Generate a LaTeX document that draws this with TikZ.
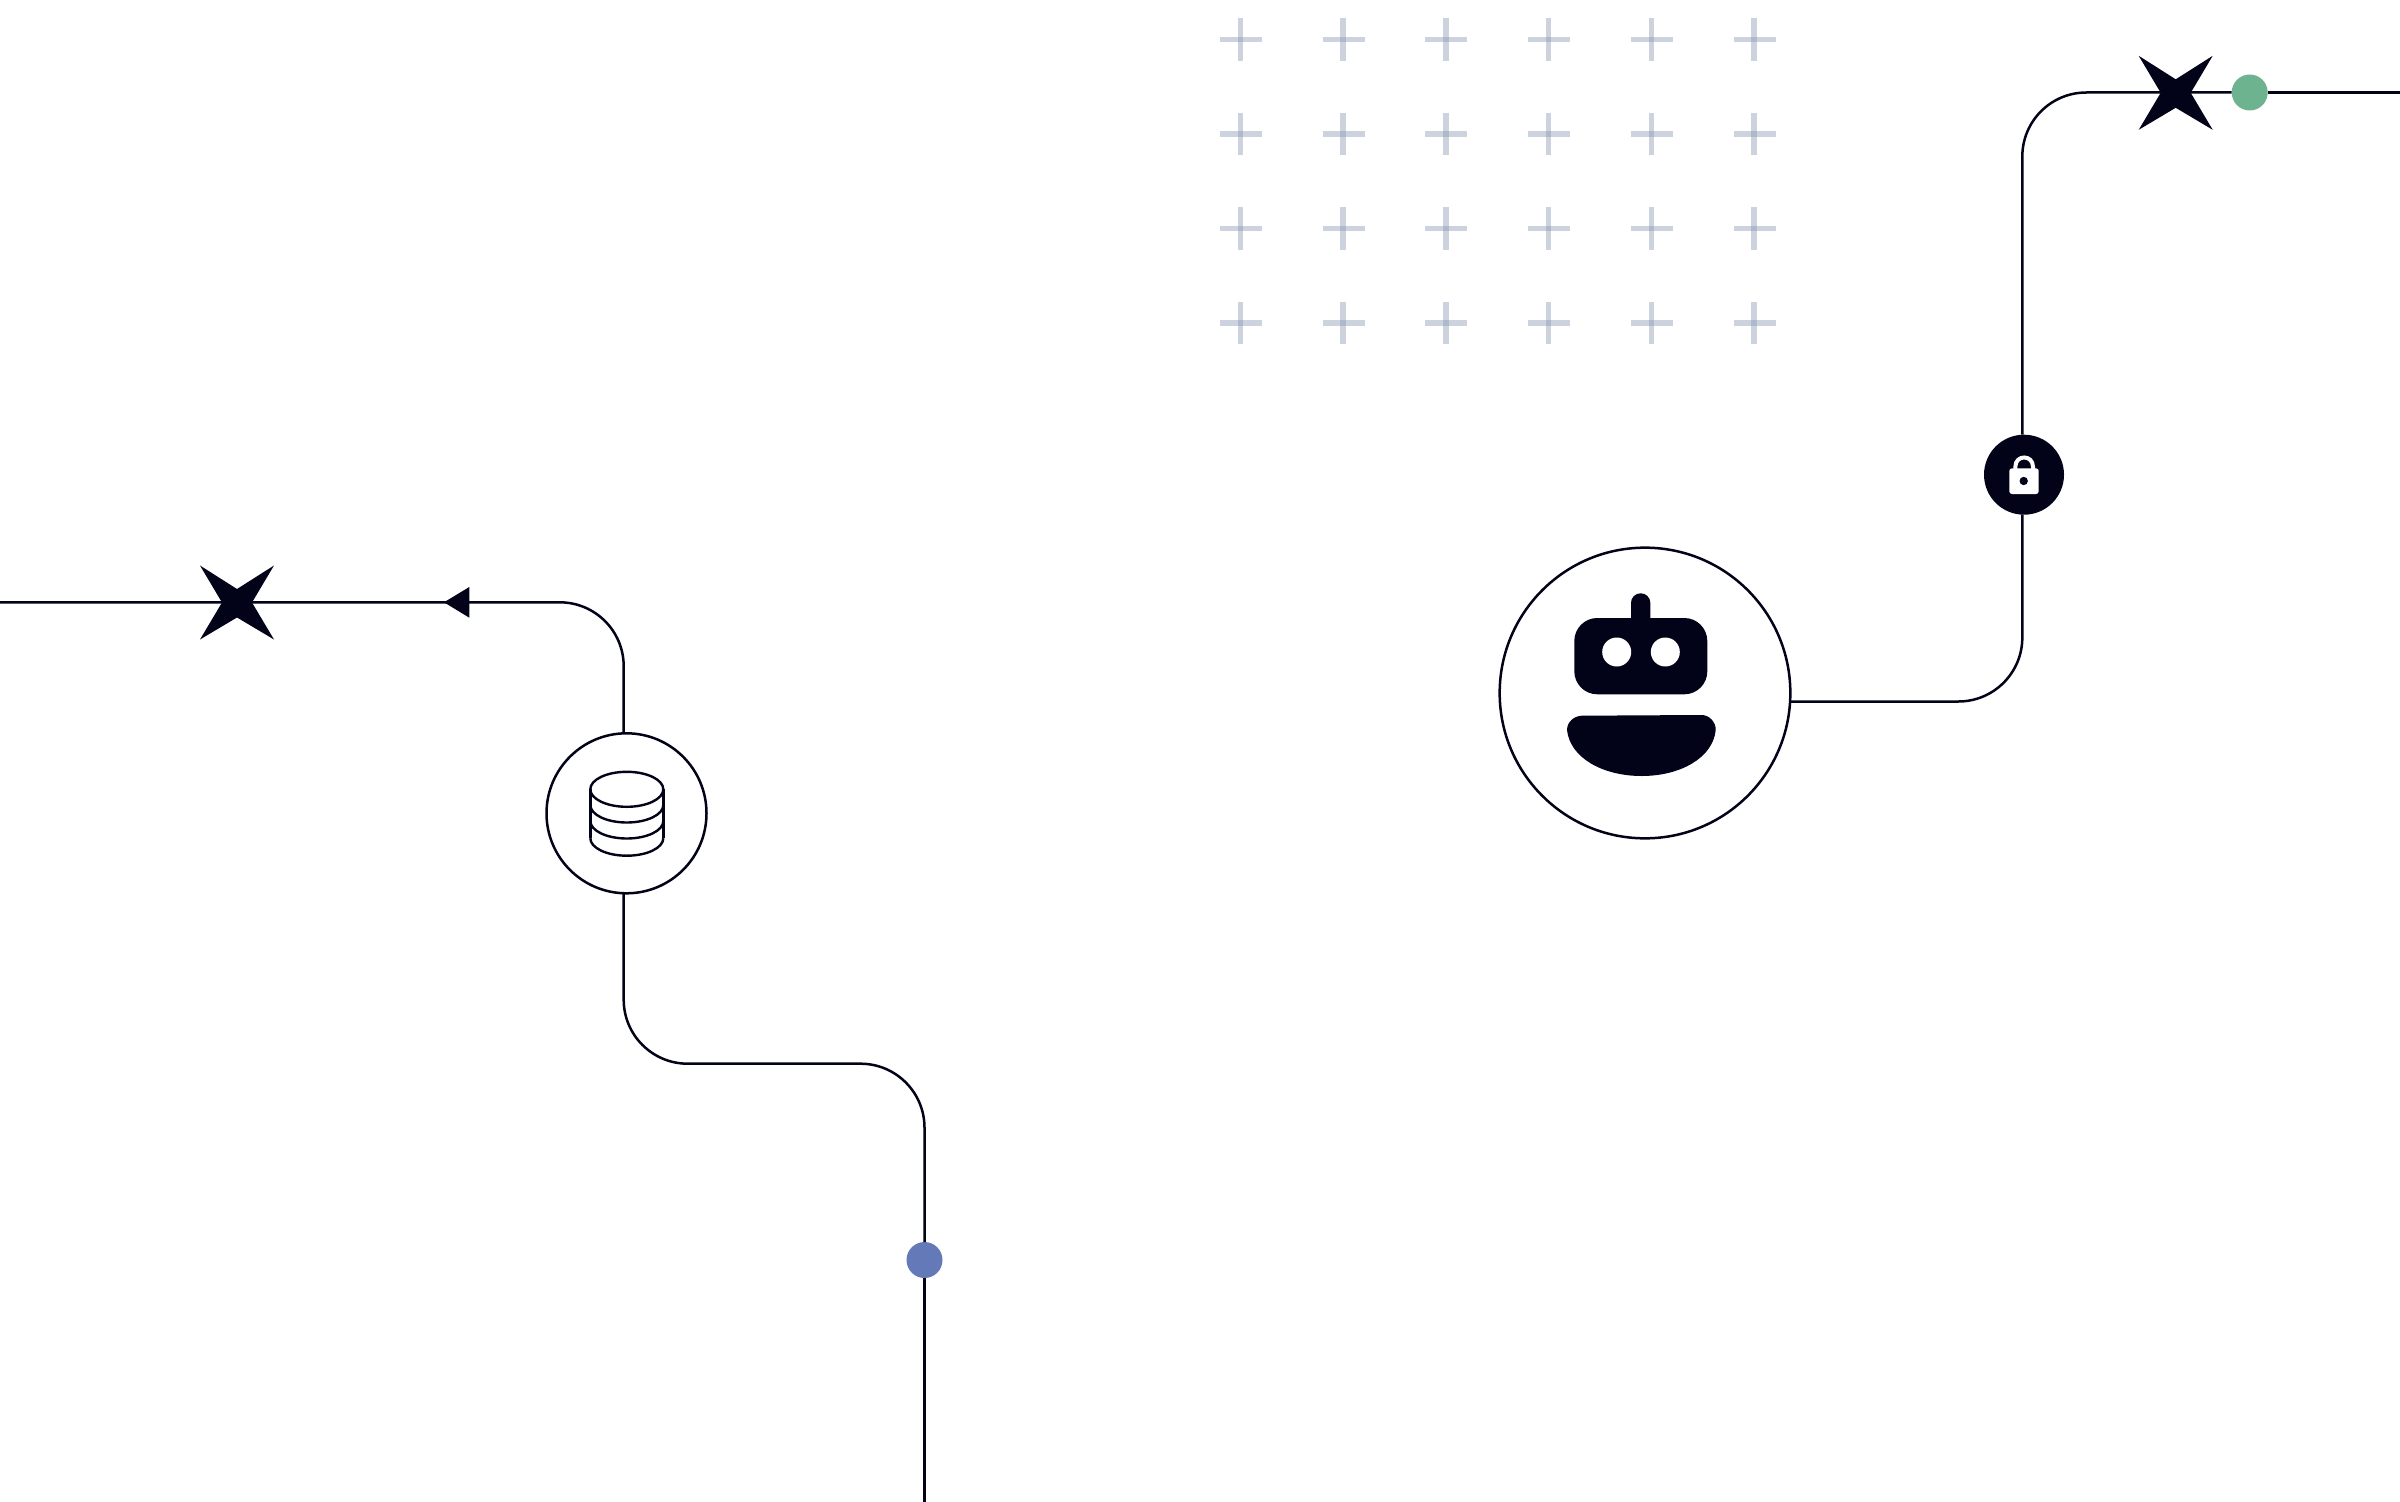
\documentclass[tikz,border=0pt]{standalone}
\definecolor{ink}{HTML}{020318}
\definecolor{plusc}{HTML}{8E9BB5}
\definecolor{dotgreen}{HTML}{6DB38F}
\definecolor{dotblue}{HTML}{6379B8}
\tikzset{
  wire/.style={draw=ink,line width=0.75mm,rounded corners=19.2mm},
  ring/.style={circle,draw=ink,fill=white,line width=0.75mm,inner sep=0pt,outer sep=0pt},
  dot/.style={circle,inner sep=0pt,outer sep=0pt,minimum size=10.8mm},
  blackring/.style={circle,fill=ink,inner sep=0pt,outer sep=0pt,minimum size=24mm},
  inkfill/.style={fill=ink},
  thin line/.style={draw=ink,line width=0.72mm},
  plusmark/.style={draw=plusc,draw opacity=.45,line width=1.65mm},
  spark/.pic={\fill[ink] (-37,-37) -- (0,-13.5) -- (37,-37) -- (15,0) -- (37,37) -- (0,15) -- (-37,37) -- (-15,0) -- cycle;}
}
\begin{document}
\begin{tikzpicture}[x=0.3mm,y=-0.3mm]
\useasboundingbox (0,0) rectangle (2400,1502);

% plus grid
\foreach \i in {0,...,5}{\foreach \j in {0,...,3}{
  \draw[plusmark] ({1220+102.7*\i},{39.7+94.4*\j}) -- ++(42,0);
  \draw[plusmark] ({1240.5+102.7*\i},{18.5+94.4*\j}) -- ++(0,42.5);
}}

% nodes
\node[ring,minimum size=87.2mm] (robot) at (1645,693) {};
\node[ring,minimum size=48mm] (db) at (626.5,813.3) {};
\node[blackring] (lock) at (2024,474.7) {};
\node[dot,fill=dotgreen] (green) at (2249.7,92.5) {};
\node[dot,fill=dotblue] (blue) at (924.5,1260) {};

% route coordinates
\coordinate (r1) at (2022.3,701.5);
\coordinate (r2) at (2022.3,92.5);
\coordinate (rend) at (2400,92.5);
\coordinate (l1) at (623.7,602.3);
\coordinate (lend) at (0,602.3);
\coordinate (d1) at (623.7,1063.7);
\coordinate (d2) at (924.5,1063.7);
\coordinate (dend) at (924.5,1502);

% connectors
\draw[wire] (robot.-3 |- r1) -- (r1) -- (r1 |- lock.south);
\draw[wire] (r1 |- lock.north) -- (r2) -- (green.west);
\draw[wire] (green.east) -- (rend);
\draw[wire] (db.north -| l1) -- (l1) -- (lend);
\draw[wire] (db.south -| l1) -- (d1) -- (d2) -- (blue.north);
\draw[wire] (blue.south) -- (dend);

% stars
\pic at (2175.7,92.8) {spark};
\pic at (237,602.5) {spark};

% arrowhead
\fill[ink] (444,602.3) -- (469.3,587) -- (469.3,617.7) -- cycle;

% robot
\fill[inkfill,rounded corners=6.9mm] (1574.3,618) rectangle (1707.3,694.3);
\fill[inkfill,rounded corners=2.85mm] (1631,630) -- (1631,593.3) -- (1650.3,593.3) -- (1650.3,630) -- cycle;
\fill[white] (1616.7,652) circle[radius=4.35mm];
\fill[white] (1665.3,652) circle[radius=4.35mm];
\fill[inkfill] (1581.7,715.7) -- (1701.7,715) .. controls (1709,715) and (1716,722) .. (1715.7,730)
  .. controls (1713,758) and (1680,776) .. (1641.7,776)
  .. controls (1603,776) and (1570,758) .. (1567,730)
  .. controls (1567,722) and (1574,716) .. (1581.7,715.7) -- cycle;

% database
\draw[thin line] (626.8,789.3) ellipse[x radius=10.95mm,y radius=5.25mm];
\draw[thin line] (590.3,789.3) -- (590.3,838);
\draw[thin line] (663.3,789.3) -- (663.3,838);
\foreach \yy in {805,821,838.2}{
  \draw[thin line] (590.3,\yy) arc[start angle=180,end angle=360,x radius=10.95mm,y radius=5.25mm];
}

% lock
\fill[white,rounded corners=0.8mm] (2009.3,468.3) rectangle (2038.7,494);
\draw[white,line width=1.2mm] (2015.3,470) -- (2015.3,467) .. controls (2015.3,454.3) and (2033,454.3) .. (2033,467) -- (2033,470);
\fill[ink] (2023.7,481) circle[radius=1.25mm];
\end{tikzpicture}
\end{document}
